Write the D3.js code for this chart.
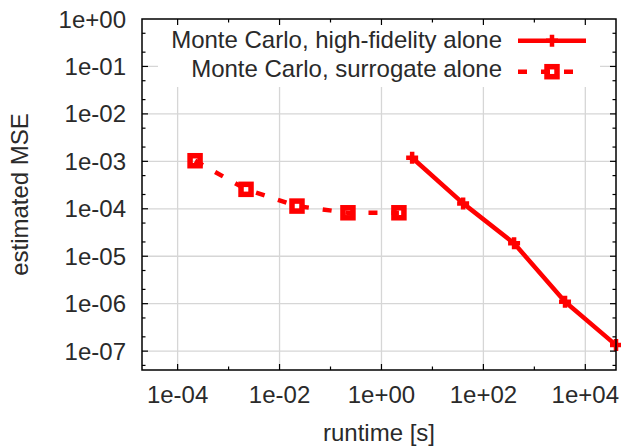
<!DOCTYPE html>
<html>
<head>
<meta charset="utf-8">
<script src="https://cdn.jsdelivr.net/npm/d3@7"></script>
<style>
  html, body { margin: 0; padding: 0; background: #fff; }
  svg text { font-family: "Liberation Sans", Arial, sans-serif; fill: #2a2a2a; }
</style>
</head>
<body>
<svg id="chart" width="621" height="448"></svg>
<script>
// Runtime [s] and estimated MSE for the two Monte Carlo estimators
const hfRuntime   = [4, 40, 400, 4000, 40000];
const hfMSE       = [1.19e-3, 1.30e-4, 1.87e-5, 1.10e-6, 1.34e-7];
const surRuntime  = [2.2e-4, 2.2e-3, 2.2e-2, 2.2e-1, 2.2];
const surMSE      = [1.03e-3, 2.57e-4, 1.14e-4, 8.24e-5, 8.24e-5];

const xMajorTicks = [1e-4, 1e-2, 1e0, 1e2, 1e4];
const xMinorTicks = [1e-3, 1e-1, 1e1, 1e3];
const xTickLabels = ["1e-04", "1e-02", "1e+00", "1e+02", "1e+04"];
const yMajorTicks = [1e0, 1e-1, 1e-2, 1e-3, 1e-4, 1e-5, 1e-6, 1e-7];
const yTickLabels = ["1e+00", "1e-01", "1e-02", "1e-03", "1e-04", "1e-05", "1e-06", "1e-07"];
const yMinorTicks = [5e-1, 2e-1, 5e-2, 2e-2, 5e-3, 2e-3, 5e-4, 2e-4, 5e-5, 2e-5, 5e-6, 2e-6, 5e-7, 2e-7, 5e-8];

const seriesNames = ["Monte Carlo, high-fidelity alone", "Monte Carlo, surrogate alone"];

const L = 142, R = 616, T = 19, B = 370;
const red = "#ff0000";

const svg = d3.select("#chart");
const x = d3.scaleLog().domain([2e-5, 4e4]).range([L, R]);
const y = d3.scaleLog().domain([4e-8, 1]).range([B, T]);

// grid
const grid = svg.append("g").attr("stroke", "#d6d6d6").attr("stroke-width", 1.3);
grid.selectAll("line.gx").data(xMajorTicks).join("line")
  .attr("x1", d => x(d)).attr("x2", d => x(d)).attr("y1", T).attr("y2", B);
grid.selectAll("line.gy").data(yMajorTicks.filter(d => d < 1)).join("line")
  .attr("x1", L).attr("x2", R).attr("y1", d => y(d)).attr("y2", d => y(d));

// legend background
svg.append("rect").attr("x", 158).attr("y", T).attr("width", 442).attr("height", 68)
  .attr("fill", "#fff");

// data lines
const line = d3.line().x(d => x(d[0])).y(d => y(d[1]));
const hfPts = hfRuntime.map((r, i) => [r, hfMSE[i]]);
const surPts = surRuntime.map((r, i) => [r, surMSE[i]]);

svg.append("path").datum(hfPts).attr("d", line)
  .attr("fill", "none").attr("stroke", red).attr("stroke-width", 4.5)
  .attr("stroke-linejoin", "round");
svg.append("path").datum(surPts).attr("d", line)
  .attr("fill", "none").attr("stroke", red).attr("stroke-width", 4.5)
  .attr("stroke-dasharray", "9,14");

function plusMarker(g, cx, cy) {
  g.append("path").attr("d", `M${cx - 6},${cy}H${cx + 6}M${cx},${cy - 6}V${cy + 6}`)
    .attr("stroke", red).attr("stroke-width", 4.5).attr("fill", "none");
}
function squareMarker(g, cx, cy) {
  g.append("rect").attr("x", cx - 5).attr("y", cy - 5).attr("width", 10).attr("height", 10)
    .attr("stroke", red).attr("stroke-width", 5.5).attr("fill", "none");
}

const marks = svg.append("g");
hfPts.forEach(p => plusMarker(marks, x(p[0]), y(p[1])));
surPts.forEach(p => squareMarker(marks, x(p[0]), y(p[1])));

// frame and ticks
const ax = svg.append("g").attr("stroke", "#000");
ax.append("rect").attr("x", L).attr("y", T).attr("width", R - L).attr("height", B - T)
  .attr("fill", "none").attr("stroke-width", 1.5);
const tickG = ax.append("g").attr("stroke-width", 1.2);
function xt(vals, len) {
  vals.forEach(v => {
    tickG.append("line").attr("x1", x(v)).attr("x2", x(v)).attr("y1", B).attr("y2", B - len);
    tickG.append("line").attr("x1", x(v)).attr("x2", x(v)).attr("y1", T).attr("y2", T + len);
  });
}
function yt(vals, len) {
  vals.forEach(v => {
    tickG.append("line").attr("x1", L).attr("x2", L + len).attr("y1", y(v)).attr("y2", y(v));
    tickG.append("line").attr("x1", R).attr("x2", R - len).attr("y1", y(v)).attr("y2", y(v));
  });
}
xt(xMajorTicks, 6); xt(xMinorTicks, 3.5);
yt(yMajorTicks.filter(d => d < 1), 6); yt(yMinorTicks, 3.5);

// tick labels
svg.selectAll("text.xl").data(xMajorTicks).join("text")
  .attr("x", d => x(d)).attr("y", 403).attr("text-anchor", "middle")
  .attr("font-size", 24).text((d, i) => xTickLabels[i]);
svg.selectAll("text.yl").data(yMajorTicks).join("text")
  .attr("x", 126).attr("y", d => y(d) + 8.5).attr("text-anchor", "end")
  .attr("font-size", 24).text((d, i) => yTickLabels[i]);

// axis titles
svg.append("text").attr("x", (L + R) / 2).attr("y", 441).attr("text-anchor", "middle")
  .attr("font-size", 24).text("runtime [s]");
svg.append("text").attr("transform", `translate(28,${(T + B) / 2}) rotate(-90)`)
  .attr("text-anchor", "middle").attr("font-size", 24).text("estimated MSE");

// legend
const leg = svg.append("g");
const legRows = [47.5, 76.5];
leg.selectAll("text").data(seriesNames).join("text")
  .attr("x", 502).attr("y", (d, i) => legRows[i]).attr("text-anchor", "end")
  .attr("font-size", 24).text(d => d);
leg.append("line").attr("x1", 518).attr("x2", 586).attr("y1", 40.7).attr("y2", 40.7)
  .attr("stroke", red).attr("stroke-width", 4.5);
plusMarker(leg, 552, 40.7);
leg.append("line").attr("x1", 518).attr("x2", 586).attr("y1", 71.7).attr("y2", 71.7)
  .attr("stroke", red).attr("stroke-width", 4.5).attr("stroke-dasharray", "9,14");
squareMarker(leg, 552, 71.7);
</script>
</body>
</html>
